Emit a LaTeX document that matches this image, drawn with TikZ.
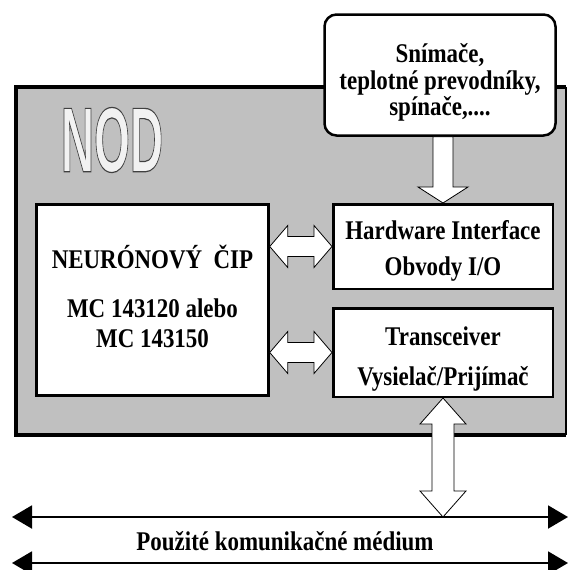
\documentclass[tikz,border=0pt]{standalone}
\usepackage{fontspec}
\setmainfont{Liberation Serif}[FakeStretch=0.85]
\setsansfont{Liberation Sans}
\usepackage{graphicx}
\usetikzlibrary{calc,arrows.meta}
\definecolor{nodgray}{RGB}{192,192,192}
\tikzset{
  box/.style={draw,line width=2.5pt,fill=white,inner sep=0pt,align=center,
    font=\fontsize{27}{26.5}\selectfont\bfseries},
  fat/.style={draw,fill=white,line width=0.8pt},
  medium/.style={line width=2pt,{Triangle[length=20pt,width=23pt]}-{Triangle[length=20pt,width=23pt]}}
}
\newcommand\outlined[1]{\special{pdf:code q 2 Tr 1.2 w 0.25 G}#1\special{pdf:code Q}}
\newcommand\fatharrow[2]{%
  \path[fat] let \p1=(#1), \p2=(#2) in
    (\x1,\y1) -- (\x1+18pt,\y1+21pt) -- (\x1+18pt,\y1+10pt) -- (\x2-18pt,\y1+10pt)
    -- (\x2-18pt,\y1+21pt) -- (\x2,\y1) -- (\x2-18pt,\y1-21pt) -- (\x2-18pt,\y1-10pt)
    -- (\x1+18pt,\y1-10pt) -- (\x1+18pt,\y1-21pt) -- cycle;}
\newcommand\fatvarrow[2]{%
  \path[fat] let \p1=(#1), \p2=(#2) in
    (\x1,\y1) -- (\x1+23pt,\y1-26pt) -- (\x1+11pt,\y1-26pt) -- (\x1+11pt,\y2+26pt)
    -- (\x1+23pt,\y2+26pt) -- (\x1,\y2) -- (\x1-23pt,\y2+26pt) -- (\x1-11pt,\y2+26pt)
    -- (\x1-11pt,\y1-26pt) -- (\x1-23pt,\y1-26pt) -- cycle;}
\newcommand\fatdarrow[2]{%
  \path[fat] let \p1=(#1), \p2=(#2) in
    (\x2-10pt,\y1) -- (\x2-10pt,\y2+16pt) -- (\x2-25pt,\y2+16pt) -- (\x2,\y2)
    -- (\x2+25pt,\y2+16pt) -- (\x2+10pt,\y2+16pt) -- (\x2+10pt,\y1) -- cycle;}
\begin{document}
\begin{tikzpicture}[x=1pt,y=-1pt]
  \useasboundingbox (0,0) rectangle (571,570);

  \node[fill=nodgray,minimum width=550pt,minimum height=348pt,inner sep=0pt] (nod) at (291,261) {};
  \draw[line width=4pt] (nod.north east) -- (nod.north west) -- (nod.south west) -- (nod.south east);
  \draw[line width=1.5pt] (nod.north east) -- (nod.south east);

  \node[text=black!5,font=\sffamily\bfseries\fontsize{92}{92}\selectfont] (nodlabel) at (112,140)
    {\outlined{\scalebox{0.5}[1]{NOD}}};

  \node[box,rounded corners=12pt,minimum width=231pt,minimum height=121pt] (sensor) at (440,75)
    {\rule{0pt}{34pt}Snímače,\\teplotné prevodníky,\\spínače,....};
  \node[box,minimum width=232pt,minimum height=191pt] (chip) at (152.5,300)
    {NEURÓNOVÝ\ \ ČIP\\[22.5pt]MC 143120 alebo\\[3.5pt]MC 143150\rule[-7pt]{0pt}{0pt}};
  \node[box,minimum width=219.5pt,minimum height=84.5pt] (hw) at (443,246.5)
    {\rule{0pt}{28.5pt}Hardware Interface\\[9.5pt]Obvody I/O};
  \node[box,minimum width=219.5pt,minimum height=88.5pt] (trans) at (443,352.5)
    {\rule{0pt}{32.5pt}Transceiver\\[13.5pt]Vysielač/Prijímač};

  \coordinate (medtl) at (12,517);
  \coordinate (medtr) at (568,517);
  \coordinate (medbl) at (12,563);
  \coordinate (medbr) at (568,563);
  \draw[medium] (medtl) -- (medtr);
  \draw[medium] (medbl) -- (medbr);
  \node[font=\fontsize{27}{26.5}\selectfont\bfseries] (medlabel) at (285,541) {Použité komunikačné médium};

  \fatdarrow{hw.north |- sensor.south}{hw.north}
  \fatharrow{chip.east |- hw.west}{hw.west}
  \fatharrow{chip.east |- trans.west}{trans.west}
  \fatvarrow{trans.south}{trans.south |- medtl}
\end{tikzpicture}
\end{document}
